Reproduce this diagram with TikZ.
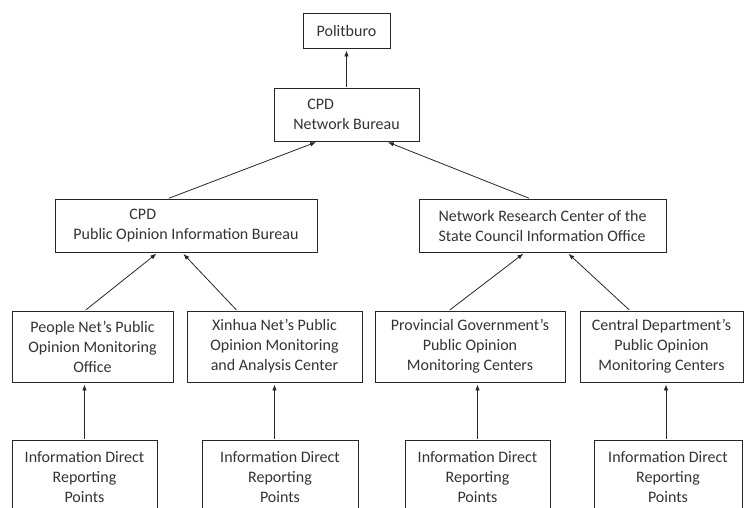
\documentclass[tikz,border=0pt]{standalone}
\usepackage{fontspec}
\setmainfont{Carlito}
\usetikzlibrary{arrows.meta}
\tikzset{
  x=1pt, y=-1pt,
  box/.style={draw=black!85, line width=0.8pt, rectangle, inner sep=0pt, align=center,
    text=black!80, font=\fontsize{16}{20}\selectfont},
  arr/.style={draw=black!85, line width=0.8pt, -{Latex[length=6pt,width=4.5pt]}, shorten >=2pt, shorten <=1pt},
}
\begin{document}
\begin{tikzpicture}
\useasboundingbox (0,0) rectangle (744,507);
\clip (0,0) rectangle (744,507);
% level 0
\node[box, minimum width=87pt, minimum height=35pt] (pol) at (346.5,30.5) {Politburo};
% level 1
\node[box, minimum width=145pt, minimum height=53pt, align=left] (nb) at (346.5,114.5) {\hspace*{14pt}CPD\\Network Bureau};
% level 2
\node[box, minimum width=262pt, minimum height=53pt, align=left] (poib) at (186,225.5) {\hspace*{56pt}CPD\\Public Opinion Information Bureau};
\node[box, minimum width=247pt, minimum height=53pt, align=left] (nrc) at (542.5,225.5) {Network Research Center of the\\State Council Information Office};
% level 3
\node[box, minimum width=161pt, minimum height=71pt] (pn) at (92.5,346.5) {People Net's Public\\Opinion Monitoring\\Office};
\node[box, minimum width=175pt, minimum height=71pt] (xn) at (274.5,346.5) {Xinhua Net’s Public\\Opinion Monitoring\\and Analysis Center};
\node[box, minimum width=190pt, minimum height=71pt] (pg) at (470,346.5) {Provincial Government’s\\Public Opinion\\Monitoring Centers};
\node[box, minimum width=163pt, minimum height=71pt] (cd) at (661.5,346.5) {Central Department’s\\Public Opinion\\Monitoring Centers};
% level 4
\node[box, minimum width=145pt, minimum height=74pt] (r1) at (84.5,477) {Information Direct\\Reporting\\Points};
\node[box, minimum width=156pt, minimum height=74pt] (r2) at (280,477) {Information Direct\\Reporting\\Points};
\node[box, minimum width=145pt, minimum height=74pt] (r3) at (477.5,477) {Information Direct\\Reporting\\Points};
\node[box, minimum width=148pt, minimum height=74pt] (r4) at (668,477) {Information Direct\\Reporting\\Points};
% connectors
\draw[arr] (nb.north) -- (pol.south);
\draw[arr] ([xshift=-18pt]poib.north) -- ([xshift=-28.5pt]nb.south);
\draw[arr] ([xshift=-12.5pt]nrc.north) -- ([xshift=39.5pt]nb.south);
\draw[arr] ([xshift=-7.5pt]pn.north) -- ([xshift=-28pt]poib.south);
\draw[arr] ([xshift=-37.5pt]xn.north) -- ([xshift=-4pt]poib.south);
\draw[arr] ([xshift=-21pt]pg.north) -- ([xshift=-17.5pt]nrc.south);
\draw[arr] ([xshift=-31.5pt]cd.north) -- ([xshift=24.5pt]nrc.south);
\draw[arr] (r1.north) -- (r1.north |- pn.south);
\draw[arr] (xn.south |- r2.north) -- (xn.south);
\draw[arr] (r3.north) -- (r3.north |- pg.south);
\draw[arr] ([xshift=-2pt]r4.north) -- ([xshift=-2pt]r4.north |- cd.south);
\end{tikzpicture}
\end{document}
